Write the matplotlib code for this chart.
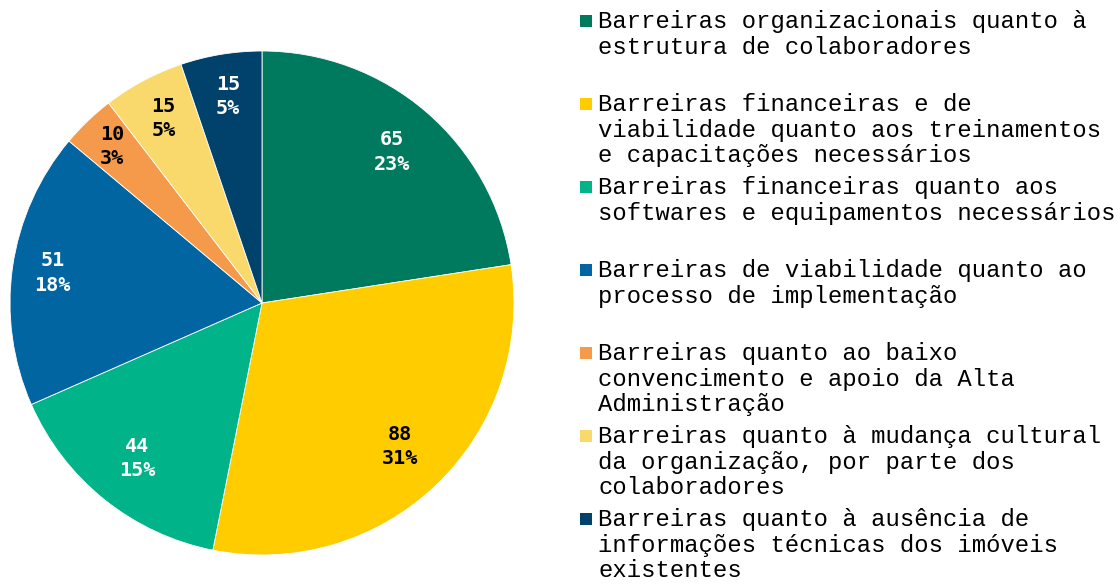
import numpy as np
import matplotlib.pyplot as plt

categorias = [
    "Barreiras organizacionais quanto à\nestrutura de colaboradores",
    "Barreiras financeiras e de\nviabilidade quanto aos treinamentos\ne capacitações necessários",
    "Barreiras financeiras quanto aos\nsoftwares e equipamentos necessários",
    "Barreiras de viabilidade quanto ao\nprocesso de implementação",
    "Barreiras quanto ao baixo\nconvencimento e apoio da Alta\nAdministração",
    "Barreiras quanto à mudança cultural\nda organização, por parte dos\ncolaboradores",
    "Barreiras quanto à ausência de\ninformações técnicas dos imóveis\nexistentes",
]
valores = [65, 88, 44, 51, 10, 15, 15]
cores = ['#007A5E', '#FFCC00', '#00B388', '#0065A0', '#F5994A', '#F9D96B', '#00426B']
cor_texto = ['white', 'black', 'white', 'white', 'black', 'black', 'white']
dist_rotulo = [0.79, 0.79, 0.79, 0.84, 0.86, 0.83, 0.83]

W, H = 1120, 585
fig = plt.figure(figsize=(W / 100, H / 100), dpi=100)
ax = fig.add_axes([10 / W, 30 / H, 504 / W, 504 / H])

total = sum(valores)
wedges, _ = ax.pie(valores, colors=cores, startangle=90, counterclock=False,
                   radius=1, wedgeprops=dict(edgecolor='white', linewidth=0.6))
ax.set_xlim(-1, 1)
ax.set_ylim(-1, 1)
ax.set_aspect('equal')
ax.axis('off')

# rótulos de dados: valor e percentual
for w, v, c, d in zip(wedges, valores, cor_texto, dist_rotulo):
    ang = np.deg2rad((w.theta1 + w.theta2) / 2)
    x, y = d * np.cos(ang), d * np.sin(ang)
    ax.text(x, y, f"{v}\n{round(100 * v / total)}%", ha='center', va='center',
            color=c, fontsize=14.5, fontweight='bold', family='DejaVu Sans Mono',
            linespacing=1.35)

# legenda manual
y0 = 21
passo = 83
for i, (cat, cor) in enumerate(zip(categorias, cores)):
    yc = y0 + i * passo
    fig.patches.append(plt.Rectangle((580 / W, 1 - (yc + 6) / H), 12 / W, 12 / H,
                                     transform=fig.transFigure, facecolor=cor,
                                     edgecolor='none'))
    fig.text(598 / W, 1 - (yc - 11) / H, cat, ha='left', va='top',
             family='Liberation Mono', fontsize=17.2, linespacing=1.15)

fig.savefig('out.png', dpi=100)
